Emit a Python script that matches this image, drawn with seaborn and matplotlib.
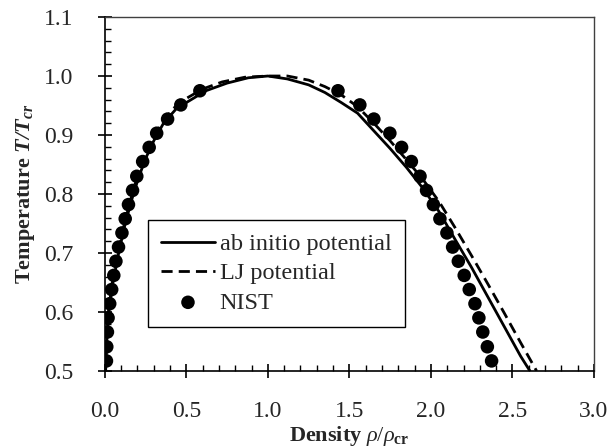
import numpy as np
import pandas as pd
import matplotlib
matplotlib.use("Agg")
import matplotlib.pyplot as plt
import seaborn as sns
from matplotlib.ticker import MultipleLocator, FormatStrFormatter

# ---------------- data ----------------
nist_T = [0.517, 0.541, 0.566, 0.590, 0.614, 0.638, 0.662, 0.686, 0.710, 0.734,
          0.758, 0.782, 0.806, 0.830, 0.855, 0.879, 0.903, 0.927, 0.951, 0.975]
nist_rho_vap = [0.010, 0.012, 0.016, 0.020, 0.030, 0.042, 0.055, 0.068, 0.084, 0.105,
                0.125, 0.145, 0.170, 0.196, 0.232, 0.272, 0.318, 0.385, 0.466, 0.583]
nist_rho_liq = [2.372, 2.346, 2.318, 2.294, 2.270, 2.235, 2.204, 2.168, 2.133, 2.098,
                2.055, 2.015, 1.973, 1.933, 1.880, 1.820, 1.748, 1.650, 1.564, 1.430]

abinitio_rho = [0.005, 0.012, 0.025, 0.050, 0.085, 0.125, 0.175, 0.210, 0.250, 0.300,
                0.360, 0.440, 0.530, 0.620, 0.750, 0.880, 1.000, 1.120, 1.250, 1.350,
                1.450, 1.550, 1.650, 1.750, 1.850, 1.950, 2.050, 2.150, 2.250, 2.350,
                2.450, 2.550, 2.607]
abinitio_T = [0.500, 0.550, 0.600, 0.650, 0.700, 0.750, 0.800, 0.830, 0.860, 0.890,
              0.920, 0.945, 0.960, 0.975, 0.988, 0.997, 1.000, 0.995, 0.985, 0.972,
              0.955, 0.937, 0.907, 0.877, 0.845, 0.810, 0.770, 0.722, 0.675, 0.625,
              0.575, 0.525, 0.500]

lj_rho = [0.004, 0.010, 0.022, 0.046, 0.080, 0.120, 0.168, 0.200, 0.240, 0.290,
          0.350, 0.420, 0.500, 0.600, 0.720, 0.860, 1.000, 1.120, 1.250, 1.350,
          1.450, 1.550, 1.650, 1.750, 1.850, 1.950, 2.050, 2.150, 2.250, 2.350,
          2.450, 2.550, 2.648]
lj_T = [0.500, 0.550, 0.600, 0.650, 0.700, 0.750, 0.800, 0.830, 0.860, 0.890,
        0.920, 0.945, 0.962, 0.978, 0.990, 0.998, 1.000, 1.000, 0.993, 0.982,
        0.968, 0.948, 0.920, 0.890, 0.858, 0.825, 0.787, 0.742, 0.695, 0.647,
        0.598, 0.548, 0.500]

x_ticks = [0.0, 0.5, 1.0, 1.5, 2.0, 2.5, 3.0]
y_ticks = [0.5, 0.6, 0.7, 0.8, 0.9, 1.0, 1.1]

# ---------------- style ----------------
sns.set_theme(style="white")
plt.rcParams["font.family"] = ["Liberation Serif", "DejaVu Serif"]
plt.rcParams["mathtext.fontset"] = "custom"
plt.rcParams["mathtext.rm"] = "Liberation Serif"
plt.rcParams["mathtext.it"] = "Liberation Serif:italic"
plt.rcParams["mathtext.bf"] = "Liberation Serif:bold"
plt.rcParams["mathtext.bfit"] = "Liberation Serif:italic:bold"

fig = plt.figure(figsize=(6.13, 4.48), dpi=100)
ax = fig.add_axes([0.171, 0.172, 0.798, 0.790])

df_ab = pd.DataFrame({"rho": abinitio_rho, "T": abinitio_T})
df_lj = pd.DataFrame({"rho": lj_rho, "T": lj_T})
df_nist = pd.DataFrame({"rho": nist_rho_vap + nist_rho_liq, "T": nist_T + nist_T})

sns.lineplot(data=df_ab, x="rho", y="T", sort=False, estimator=None, color="black",
             linewidth=2.0, ax=ax, label="ab initio potential", zorder=3)
sns.lineplot(data=df_lj, x="rho", y="T", sort=False, estimator=None, color="black",
             linewidth=2.0, ax=ax, label="LJ potential", zorder=3, dashes=False)
ax.lines[-1].set_dashes([4, 2.2])
sns.scatterplot(data=df_nist, x="rho", y="T", color="black", s=95, edgecolor="none",
                ax=ax, label="NIST", zorder=4)

ax.set_xlim(0, 3.0)
ax.set_ylim(0.5, 1.1)
ax.set_xticks(x_ticks)
ax.set_yticks(y_ticks)
ax.xaxis.set_major_formatter(FormatStrFormatter("%.1f"))
ax.yaxis.set_major_formatter(FormatStrFormatter("%.1f"))
ax.xaxis.set_minor_locator(MultipleLocator(0.1))
ax.yaxis.set_minor_locator(MultipleLocator(0.02))
ax.tick_params(axis="both", which="major", direction="inout", length=9.5, width=1.2,
               labelsize=17, color="black", bottom=True, left=True)
ax.tick_params(axis="x", which="major", pad=17)
ax.tick_params(axis="y", which="major", pad=18)
ax.tick_params(axis="both", which="minor", direction="in", length=4, width=1.0,
               color="black", bottom=True, left=True)

for side in ["left", "bottom"]:
    ax.spines[side].set_color("black")
    ax.spines[side].set_linewidth(1.2)
for side in ["top", "right"]:
    ax.spines[side].set_color("#404040")
    ax.spines[side].set_linewidth(1.0)

ax.set_xlabel(r"Density $\rho/\rho_{\mathbf{cr}}$", fontsize=16, fontweight="bold", labelpad=1)
ax.set_ylabel(r"Temperature $\mathbfit{T/T_{cr}}$", fontsize=16, fontweight="bold", labelpad=5)

leg = ax.legend(loc="lower left", bbox_to_anchor=(0.088, 0.124), fontsize=17.5,
                frameon=True, fancybox=False, edgecolor="black", framealpha=1,
                handlelength=2.2, handletextpad=0.2, borderpad=0.55, labelspacing=0.3,
                borderaxespad=0)
leg.get_frame().set_linewidth(1.0)

fig.savefig("out.png", dpi=100)
